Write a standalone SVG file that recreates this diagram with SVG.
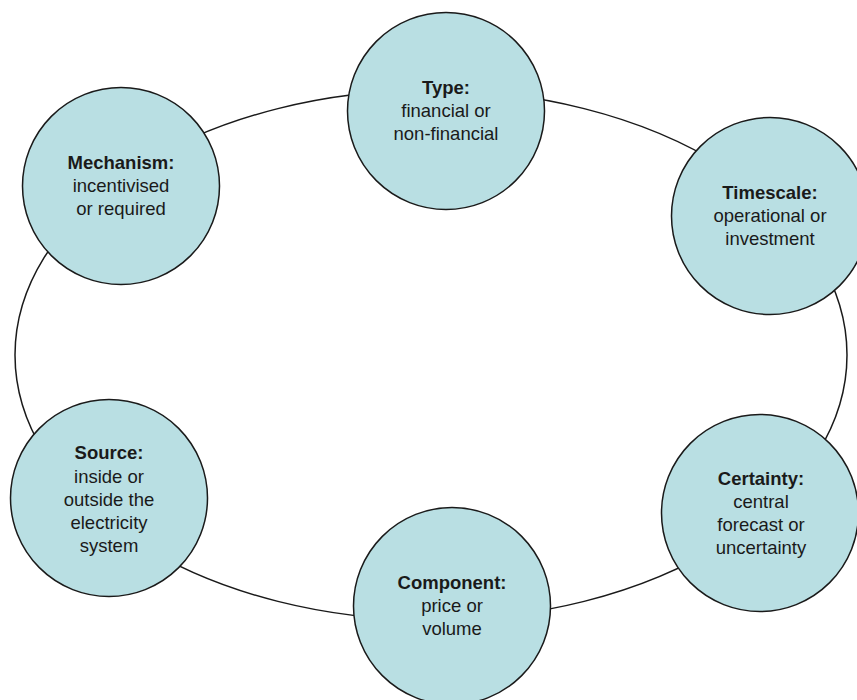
<svg xmlns="http://www.w3.org/2000/svg" width="857" height="700" viewBox="0 0 857 700">
<style>
.n{fill:#b9dfe3;stroke:#1a1a1a;stroke-width:1.5}
.e{fill:none;stroke:#1a1a1a;stroke-width:1.5}
text{font-family:"Liberation Sans",Arial,sans-serif;font-size:18.5px;fill:#1a1a1a;text-anchor:middle}
.b{font-weight:bold}
</style>
<rect width="857" height="700" fill="#ffffff"/>
<g id="connectors">
<ellipse class="e" cx="431" cy="355" rx="416" ry="265"/>
</g>
<g id="type">
<circle class="n" cx="446" cy="111" r="98.5"/>
<text x="446" y="94" class="b">Type:</text>
<text x="446" y="117">financial or</text>
<text x="446" y="140">non-financial</text>
</g>
<g id="mechanism">
<circle class="n" cx="121" cy="186" r="98.5"/>
<text x="121" y="169" class="b">Mechanism:</text>
<text x="121" y="192">incentivised</text>
<text x="121" y="215">or required</text>
</g>
<g id="timescale">
<circle class="n" cx="770" cy="216" r="98.5"/>
<text x="770" y="199" class="b">Timescale:</text>
<text x="770" y="222">operational or</text>
<text x="770" y="245">investment</text>
</g>
<g id="source">
<circle class="n" cx="109" cy="498" r="98.5"/>
<text x="109" y="459" class="b">Source:</text>
<text x="109" y="483">inside or</text>
<text x="109" y="506">outside the</text>
<text x="109" y="529">electricity</text>
<text x="109" y="552">system</text>
</g>
<g id="component">
<circle class="n" cx="452" cy="606" r="98.5"/>
<text x="452" y="589" class="b">Component:</text>
<text x="452" y="612">price or</text>
<text x="452" y="635">volume</text>
</g>
<g id="certainty">
<circle class="n" cx="760" cy="513" r="98.5"/>
<text x="761" y="485" class="b">Certainty:</text>
<text x="761" y="508">central</text>
<text x="761" y="531">forecast or</text>
<text x="761" y="554">uncertainty</text>
</g>
</svg>
